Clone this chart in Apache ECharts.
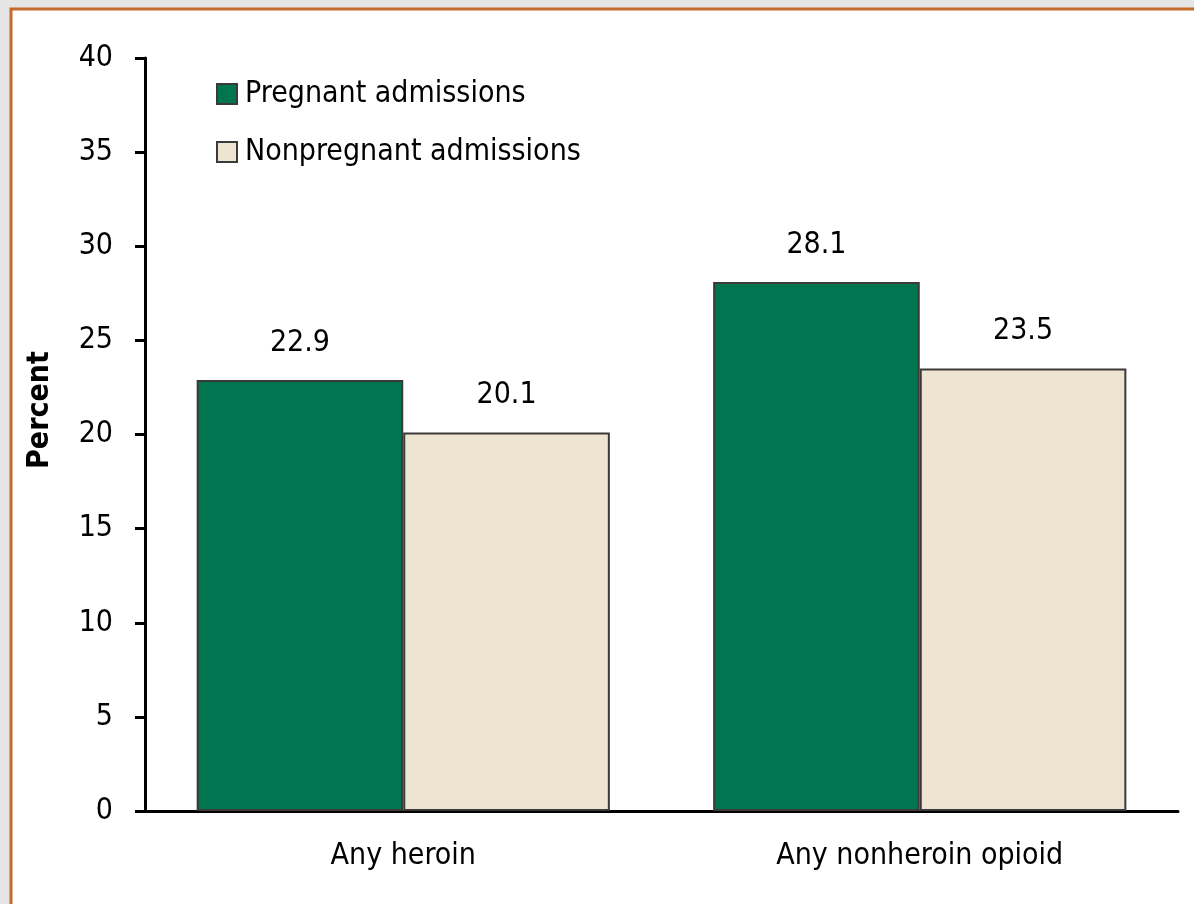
<!DOCTYPE html>
<html>
<head>
<meta charset="utf-8">
<script src="https://cdn.jsdelivr.net/npm/echarts@6/dist/echarts.min.js"></script>
<style>
  html, body { margin: 0; padding: 0; background: #e5e5e5; }
  #chart { width: 1194px; height: 904px; }
</style>
</head>
<body>
<div id="chart"></div>
<script>
var categories = ['Any heroin', 'Any nonheroin opioid'];
var pregnant = [22.9, 28.1];
var nonpregnant = [20.1, 23.5];
var seriesNames = ['Pregnant admissions', 'Nonpregnant admissions'];

var font = "'Liberation Sans Narrow', 'DejaVu Sans Condensed', 'Arial Narrow', sans-serif";

var chart = echarts.init(document.getElementById('chart'));
chart.setOption({
  backgroundColor: 'transparent',
  animation: false,
  graphic: [{
    type: 'rect',
    z: -10,
    shape: { x: 11, y: 9, width: 1200, height: 920 },
    style: { fill: '#fff', stroke: '#c46a2c', lineWidth: 3 }
  }, {
    type: 'text',
    x: 40,
    y: 410,
    rotation: Math.PI / 2,
    style: {
      text: 'Percent',
      fill: '#000',
      font: 'bold 30px ' + font,
      align: 'center',
      verticalAlign: 'middle'
    }
  }],
  grid: {
    left: 145,
    right: 16,
    top: 58,
    bottom: 93
  },
  legend: {
    orient: 'vertical',
    left: 211,
    top: 74,
    itemWidth: 20,
    itemHeight: 20,
    itemGap: 28,
    icon: 'rect',
    textStyle: { fontFamily: font, fontSize: 30, color: '#000', padding: [0, 0, 0, 3] },
    data: seriesNames
  },
  xAxis: {
    type: 'category',
    data: categories,
    axisLine: { lineStyle: { color: '#000', width: 3 } },
    axisTick: { show: false },
    axisLabel: { color: '#000', fontFamily: font, fontSize: 30, margin: 30 }
  },
  yAxis: {
    type: 'value',
    min: 0,
    max: 40,
    interval: 5,
    splitLine: { show: false },
    axisLine: { show: true, lineStyle: { color: '#000', width: 3 } },
    axisTick: { show: true, length: 10, lineStyle: { color: '#000', width: 3 } },
    axisLabel: { color: '#000', fontFamily: font, fontSize: 30, margin: 32 }
  },
  series: [{
    name: seriesNames[0],
    type: 'bar',
    data: pregnant,
    barGap: '0%',
    barCategoryGap: '20%',
    itemStyle: { color: '#00754f', borderColor: '#3a3a3a', borderWidth: 2 },
    label: {
      show: true,
      position: 'top',
      distance: 22,
      color: '#000',
      fontFamily: font,
      fontSize: 30,
      formatter: function (p) { return p.value.toFixed(1); }
    }
  }, {
    name: seriesNames[1],
    type: 'bar',
    data: nonpregnant,
    itemStyle: { color: '#ede4d1', borderColor: '#3a3a3a', borderWidth: 2 },
    label: {
      show: true,
      position: 'top',
      distance: 22,
      color: '#000',
      fontFamily: font,
      fontSize: 30,
      formatter: function (p) { return p.value.toFixed(1); }
    }
  }]
});
</script>
</body>
</html>
